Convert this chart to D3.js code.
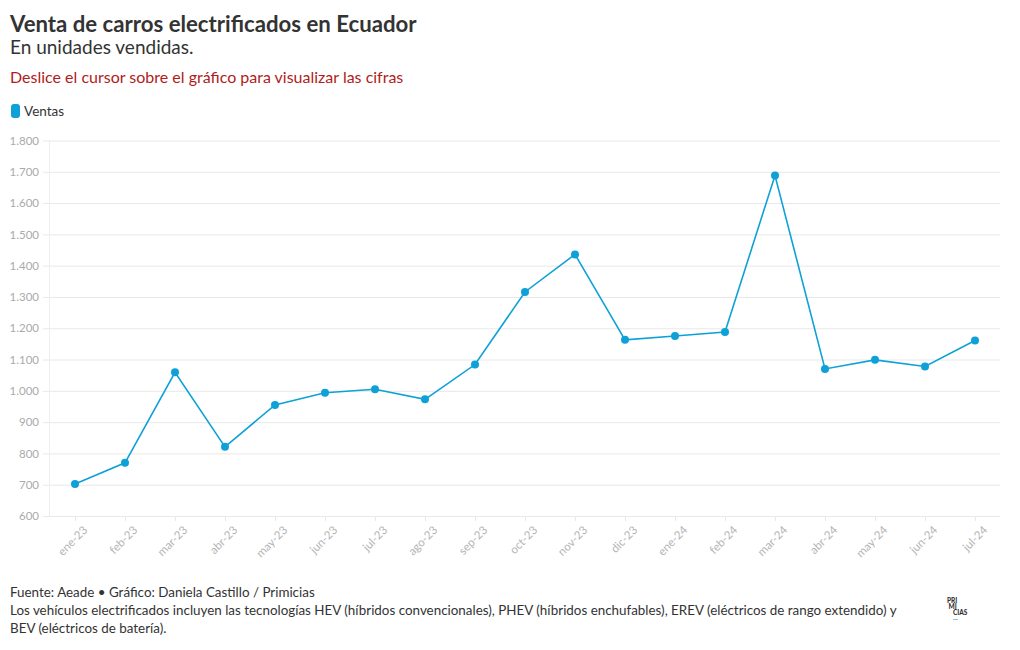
<!DOCTYPE html>
<meta charset="utf-8">
<style>
  body { margin: 0; background: #fff; }
  svg { display: block; font-family: "Source Sans Pro", Lato, "Noto Sans", sans-serif; }
</style>
<svg width="1020" height="650"></svg>
<script src="https://d3js.org/d3.v7.min.js"></script>
<script>

var months = ['ene-23', 'feb-23', 'mar-23', 'abr-23', 'may-23', 'jun-23', 'jul-23', 'ago-23', 'sep-23',
  'oct-23', 'nov-23', 'dic-23', 'ene-24', 'feb-24', 'mar-24', 'abr-24', 'may-24', 'jun-24', 'jul-24']
var ventas = [702, 770, 1059, 821, 955, 994, 1005, 973, 1084, 1316, 1436, 1163, 1175, 1188, 1688, 1070, 1099, 1078, 1161]
var yTicks = [600, 700, 800, 900, 1000, 1100, 1200, 1300, 1400, 1500, 1600, 1700, 1800]

var footLines = [
  'Fuente: Aeade \u2022 Gráfico: Daniela Castillo / Primicias',
  'Los vehículos electrificados incluyen las tecnologías HEV (híbridos convencionales), PHEV (híbridos enchufables), EREV (eléctricos de rango extendido) y',
  'BEV (eléctricos de batería).'
]

var blue = '#0ea1d8'
var svg = d3.select('svg')

// header
svg.append('text').attr('x', 10).attr('y', 32)
  .attr('font-size', 22.2).attr('font-weight', 700).attr('fill', '#333')
  .text('Venta de carros electrificados en Ecuador')
svg.append('text').attr('x', 10).attr('y', 54)
  .attr('font-size', 19).attr('fill', '#333')
  .text('En unidades vendidas.')
svg.append('text').attr('x', 10).attr('y', 83)
  .attr('font-size', 16).attr('fill', '#b01c20')
  .text('Deslice el cursor sobre el gráfico para visualizar las cifras')

// legend
svg.append('rect').attr('x', 11).attr('y', 104).attr('width', 9).attr('height', 14)
  .attr('rx', 3).attr('fill', blue)
svg.append('text').attr('x', 24).attr('y', 116)
  .attr('font-size', 13.5).attr('fill', '#333').text('Ventas')

// scales
var x = d3.scalePoint().domain(months).range([50, 1000]).padding(0.5)
var y = d3.scaleLinear().domain([600, 1800]).range([516, 140.5])
var fmt = d3.formatLocale({ decimal: ',', thousands: '.', grouping: [3], currency: ['$', ''] }).format(',d')

// y axis + gridlines
var yAxis = svg.append('g').attr('transform', 'translate(1000,0)')
  .call(d3.axisLeft(y).tickValues(yTicks).tickSize(957).tickPadding(4).tickFormat(fmt))
yAxis.select('.domain').remove()
yAxis.selectAll('line').attr('stroke', '#e8e8e8')
yAxis.selectAll('text').attr('fill', '#aaa').attr('font-size', 11.5)
  .attr('font-family', 'Lato, sans-serif')

svg.append('line').attr('x1', 49.5).attr('x2', 49.5).attr('y1', 140.5).attr('y2', 516)
  .attr('stroke', '#eee')

// x axis
var xAxis = svg.append('g').attr('transform', 'translate(0,516)')
  .call(d3.axisBottom(x).tickSize(5).tickPadding(4))
xAxis.select('.domain').attr('stroke', '#e8e8e8').attr('d', 'M49.5,0.5H1000')
xAxis.selectAll('line').attr('stroke', '#e8e8e8')
xAxis.selectAll('text').attr('fill', '#b4b4b4').attr('font-size', 11.5)
  .attr('font-family', 'Lato, sans-serif')
  .attr('text-anchor', 'end').attr('dy', '0.3em')
  .attr('transform', 'translate(4,6) rotate(-45)')

// line + points
var line = d3.line().x(function (d, i) { return x(months[i]) }).y(function (d) { return y(d) })
svg.append('path').datum(ventas).attr('d', line)
  .attr('fill', 'none').attr('stroke', blue).attr('stroke-width', 1.6)
svg.selectAll('circle.pt').data(ventas).enter().append('circle')
  .attr('class', 'pt')
  .attr('cx', function (d, i) { return x(months[i]) })
  .attr('cy', function (d) { return y(d) })
  .attr('r', 4).attr('fill', blue)

// footer
svg.append('g').selectAll('text').data(footLines).enter().append('text')
  .attr('x', 10).attr('y', function (d, i) { return 597 + i * 18 })
  .attr('font-size', 13.4).attr('fill', '#333').text(function (d) { return d })

// logo
var logo = svg.append('g').attr('font-size', 6.5).attr('font-weight', 900).attr('fill', '#333')
  .attr('font-family', 'Lato, sans-serif')
logo.append('text').attr('x', 947).attr('y', 603).text('PRI')
logo.append('text').attr('x', 948.5).attr('y', 608.5).text('MI')
logo.append('text').attr('x', 953).attr('y', 614.5).text('CIAS')
svg.append('line').attr('x1', 953).attr('x2', 958).attr('y1', 619.5).attr('y2', 619.5)
  .attr('stroke', '#7fc6ea').attr('stroke-width', 1)

</script>
